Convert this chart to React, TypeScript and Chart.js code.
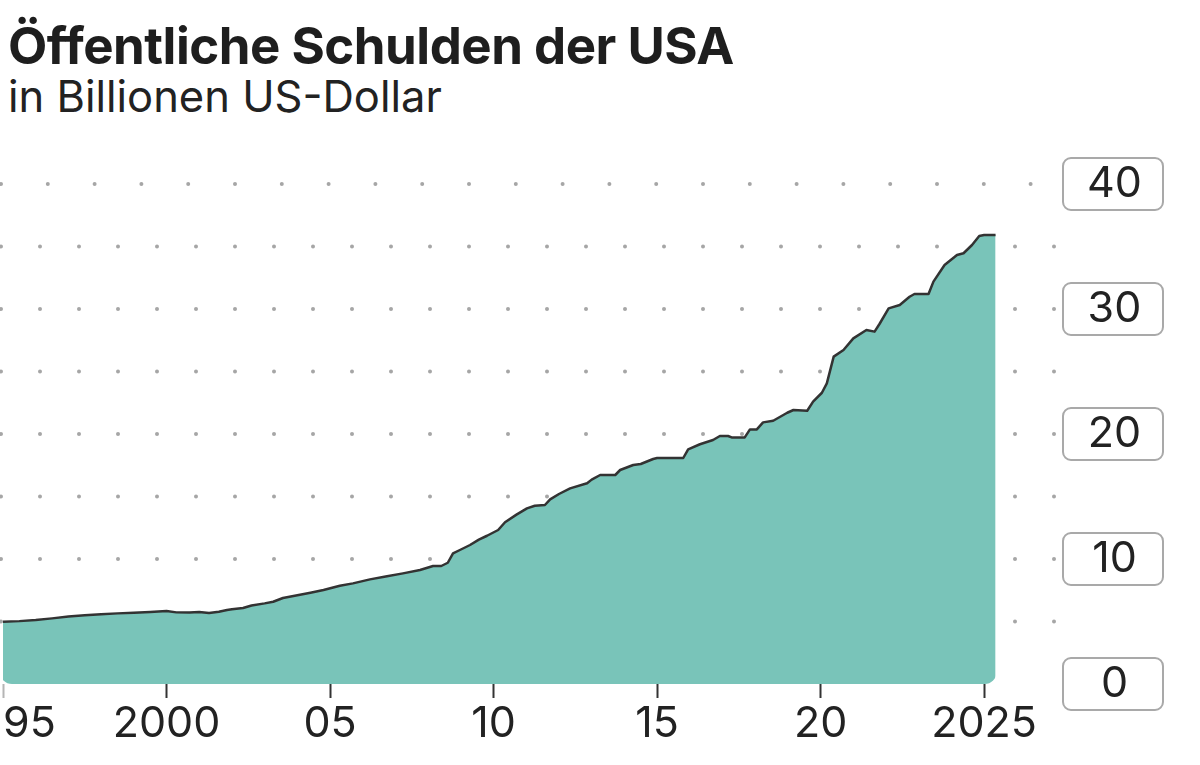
import React, { useEffect, useRef } from "react";
import { Chart, registerables } from "chart.js";

Chart.register(...registerables);

const TITLE = "Öffentliche Schulden der USA";
const SUBTITLE = "in Billionen US-Dollar";

// decimal years
const YEARS = [
  1995.0, 1995.5, 1996.0, 1996.5, 1997.0, 1997.5, 1998.0, 1998.5, 1999.0, 1999.5,
  2000.0, 2000.3, 2000.7, 2001.0, 2001.3, 2001.6, 2001.85, 2002.0, 2002.34, 2002.6,
  2003.0, 2003.26, 2003.56, 2004.0, 2004.4, 2004.8, 2005.3, 2005.7, 2006.22, 2006.7,
  2007.23, 2007.75, 2008.15, 2008.4, 2008.6, 2008.76, 2008.97, 2009.28, 2009.55, 2009.8,
  2010.14, 2010.35, 2010.7, 2011.02, 2011.26, 2011.57, 2011.73, 2012.0, 2012.34, 2012.86,
  2013.0, 2013.26, 2013.72, 2013.87, 2014.27, 2014.5, 2014.88, 2015.0, 2015.8, 2015.95,
  2016.31, 2016.71, 2016.92, 2017.17, 2017.28, 2017.68, 2017.84, 2018.05, 2018.24, 2018.55,
  2018.98, 2019.17, 2019.59, 2019.77, 2020.04, 2020.19, 2020.4, 2020.7, 2021.0, 2021.4,
  2021.65, 2021.8, 2022.08, 2022.42, 2022.72, 2022.87, 2023.3, 2023.45, 2023.79, 2024.17,
  2024.37, 2024.63, 2024.85, 2025.0, 2025.35,
];

// Billionen US-Dollar
const DEBT = [
  4.98, 5.03, 5.12, 5.25, 5.4, 5.5, 5.58, 5.65, 5.7, 5.76,
  5.84, 5.73, 5.72, 5.76, 5.68, 5.78, 5.92, 5.98, 6.08, 6.28,
  6.45, 6.58, 6.88, 7.1, 7.3, 7.52, 7.86, 8.05, 8.37, 8.6,
  8.85, 9.12, 9.44, 9.44, 9.7, 10.45, 10.72, 11.12, 11.55, 11.86,
  12.32, 12.94, 13.55, 14.05, 14.26, 14.32, 14.77, 15.2, 15.65, 16.06,
  16.35, 16.72, 16.72, 17.12, 17.52, 17.6, 18.0, 18.08, 18.08, 18.77,
  19.18, 19.52, 19.84, 19.84, 19.73, 19.73, 20.37, 20.37, 20.93, 21.06,
  21.7, 21.92, 21.86, 22.59, 23.3, 24.05, 26.19, 26.72, 27.65, 28.32,
  28.19, 28.8, 30.05, 30.32, 30.98, 31.2, 31.2, 32.19, 33.52, 34.32,
  34.46, 35.12, 35.84, 35.92, 35.92,
];

const X_TICKS = [1995, 2000, 2005, 2010, 2015, 2020, 2025];
const X_LABELS = ["95", "2000", "05", "10", "15", "20", "2025"];
const Y_TICKS = [0, 10, 20, 30, 40];
const GRID_VALUES = [5, 10, 15, 20, 25, 30, 35, 40];

const X_MIN = 1994.908;
const X_MAX = 2027.32;

const FONT = "Inter, 'Noto Sans', sans-serif";

const dotsAndClip = {
  id: "dotsAndClip",
  beforeDatasetsDraw(chart: any) {
    const { ctx, chartArea } = chart;
    const xs = chart.scales.x;
    const ys = chart.scales.y;
    ctx.save();
    ctx.fillStyle = "#a6a6a6";
    for (const v of GRID_VALUES) {
      const y = ys.getPixelForValue(v);
      const step = v === 40 ? 46.8 : 39;
      for (let x = chartArea.left + 1; x <= chartArea.right; x += step) {
        ctx.beginPath();
        ctx.arc(x, y, 2, 0, Math.PI * 2);
        ctx.fill();
      }
    }
    ctx.restore();
    // rounded clip for area
    const left = xs.getPixelForValue(YEARS[0]) - 3;
    const right = xs.getPixelForValue(YEARS[YEARS.length - 1]);
    const bottom = ys.getPixelForValue(0);
    ctx.save();
    ctx.beginPath();
    (ctx as any).roundRect(left, 0, right - left + 1, bottom, [0, 0, 12, 12]);
    ctx.clip();
  },
  afterDatasetsDraw(chart: any) {
    chart.ctx.restore();
  },
  afterDraw(chart: any) {
    const { ctx } = chart;
    const ys = chart.scales.y;
    ctx.save();
    ctx.strokeStyle = "#a9a9a9";
    ctx.lineWidth = 2;
    for (const v of Y_TICKS) {
      const y = ys.getPixelForValue(v);
      ctx.beginPath();
      (ctx as any).roundRect(ys.left + 3, y - 26, 100, 52, 8);
      ctx.stroke();
    }
    ctx.restore();
  },
};

export default function App() {
  const ref = useRef<HTMLCanvasElement | null>(null);

  useEffect(() => {
    if (!ref.current) return;
    const points = YEARS.map((x, i) => ({ x, y: DEBT[i] }));
    const chart = new Chart(ref.current, {
      type: "line",
      data: {
        datasets: [
          {
            data: points,
            borderColor: "#333333",
            borderWidth: 2.5,
            backgroundColor: "#79c4b9",
            fill: "origin",
            pointRadius: 0,
            tension: 0,
            borderJoinStyle: "round",
          },
        ],
      },
      plugins: [dotsAndClip],
      options: {
        animation: false,
        responsive: true,
        maintainAspectRatio: false,
        layout: { padding: { top: 184, left: 0, right: 0, bottom: 0 } },
        plugins: { legend: { display: false }, tooltip: { enabled: false } },
        scales: {
          x: {
            type: "linear",
            min: X_MIN,
            max: X_MAX,
            afterBuildTicks: (scale: any) => {
              scale.ticks = [...X_TICKS, X_MAX].map((v) => ({ value: v }));
            },
            afterFit: (scale: any) => {
              scale.height = 81;
            },
            ticks: {
              autoSkip: false,
              maxRotation: 0,
              align: "inner",
              padding: 0,
              color: "#222222",
              font: { family: FONT, size: 43 },
              callback: (value: any) => {
                const i = X_TICKS.indexOf(Number(value));
                return i >= 0 ? X_LABELS[i] : "";
              },
            },
            grid: {
              drawOnChartArea: false,
              drawTicks: true,
              tickLength: 14,
              tickWidth: 2,
              tickColor: (c: any) => {
                const v = c.tick ? c.tick.value : 0;
                if (v === 1995) return "#b5b5b5";
                if (v > 2025) return "rgba(0,0,0,0)";
                return "#333333";
              },
            },
            border: { display: false },
          },
          y: {
            position: "right",
            min: 0,
            max: 40,
            afterBuildTicks: (scale: any) => {
              scale.ticks = Y_TICKS.map((v) => ({ value: v }));
            },
            afterFit: (scale: any) => {
              scale.width = 140;
            },
            ticks: {
              crossAlign: "center",
              padding: 27,
              color: "#222222",
              font: { family: FONT, size: 43 },
            },
            grid: { display: false, drawTicks: false },
            border: { display: false },
          },
        },
      },
    });
    return () => chart.destroy();
  }, []);

  return (
    <div
      style={{
        position: "absolute",
        left: 0,
        top: 0,
        width: 1200,
        height: 765,
        background: "#ffffff",
        fontFamily: FONT,
        color: "#222222",
      }}
    >
      <div
        style={{
          position: "absolute",
          left: 8,
          top: 20,
          fontSize: 51,
          lineHeight: "51px",
          fontWeight: 700,
          letterSpacing: "-0.5px",
          whiteSpace: "nowrap",
          color: "#1e1e1e",
        }}
      >
        {TITLE}
      </div>
      <div
        style={{
          position: "absolute",
          left: 8,
          top: 75,
          fontSize: 43.5,
          lineHeight: "43.5px",
          whiteSpace: "nowrap",
          color: "#222222",
        }}
      >
        {SUBTITLE}
      </div>
      <canvas
        ref={ref}
        style={{ position: "absolute", left: 0, top: 0, width: 1200, height: 765 }}
        width={1200}
        height={765}
      />
    </div>
  );
}
